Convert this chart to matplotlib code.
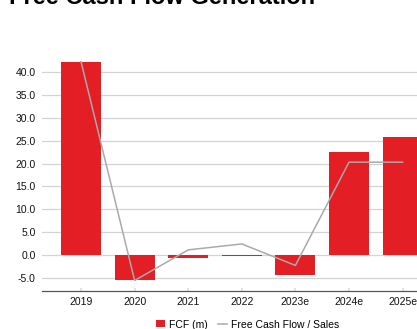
import matplotlib
matplotlib.use("Agg")
import matplotlib.pyplot as plt
import numpy as np

plt.rcParams['font.family'] = ['Liberation Sans', 'DejaVu Sans']

# data
years = ['2019', '2020', '2021', '2022', '2023e', '2024e', '2025e']
fcf = [42.3, -5.6, -0.7, -0.3, -4.4, 22.6, 25.8]
fcf_sales = [42.3, -5.6, 1.1, 2.4, -2.3, 20.3, 20.3]
y_ticks = [-5, 0, 5, 10, 15, 20, 25, 30, 35, 40]

RED = '#e31e24'
GREY = '#aaaaaa'

W, H = 417, 329
fig = plt.figure(figsize=(W / 100, H / 100), dpi=100)

# axes run past the right edge (the reference is cropped there)
left, right = 42 / W, 441.6 / W
bottom, top = (H - 291) / H, (H - 53.9) / H
ax = fig.add_axes([left, bottom, right - left, top - bottom])

x = np.arange(len(years))
bars = ax.bar(x, fcf, width=0.745, color=RED, zorder=2, label='FCF (m)')
line, = ax.plot(x, fcf_sales, color=GREY, lw=1.1, zorder=3, label='Free Cash Flow / Sales')

ax.set_xlim(-0.728, len(years) - 1 + 0.728)
ax.set_ylim(-7.9, 44)
ax.set_yticks(y_ticks)
ax.set_yticklabels(['%.1f' % v for v in y_ticks], fontsize=7.5, color='#111111')
ax.set_xticks(x)
ax.set_xticklabels(years, fontsize=7.5, color='#111111')
ax.yaxis.grid(True, color='#d4d4d4', lw=0.9, zorder=0)
ax.set_axisbelow(True)

for s in ['top', 'right', 'left']:
    ax.spines[s].set_visible(False)
ax.spines['bottom'].set_color('#555555')
ax.spines['bottom'].set_linewidth(0.9)
ax.tick_params(axis='y', length=0, pad=4.5)
ax.tick_params(axis='x', direction='in', length=2.5, color='#dddddd', width=1.2, pad=4.5)

# title, mostly cut off at the top
fig.text(9 / W, 1 - 4 / H, 'Free Cash Flow Generation', fontsize=17,
         fontweight='bold', ha='left', va='baseline')

fig.legend([bars, line], ['FCF (m)', 'Free Cash Flow / Sales'],
           loc='center', bbox_to_anchor=(247.5 / W, 1 - 324.5 / H), ncol=2,
           frameon=False, fontsize=7.5, handlelength=0.85, handleheight=0.65,
           handletextpad=0.4, columnspacing=1.0, borderaxespad=0, borderpad=0)

fig.savefig('out.png', dpi=100)
